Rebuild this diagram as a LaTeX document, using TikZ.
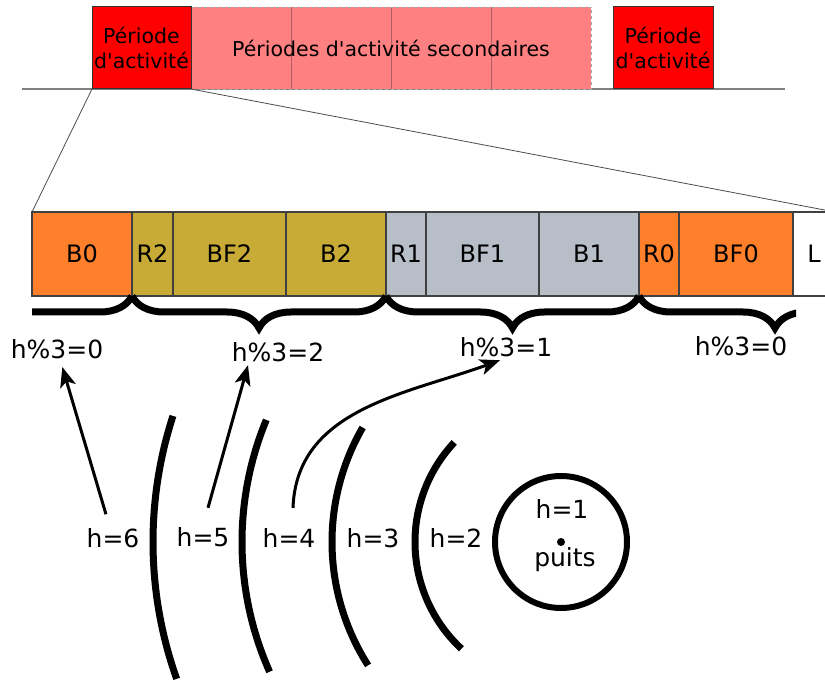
\documentclass[tikz,border=0pt]{standalone}
\usepackage{fontspec}
\setmainfont{DejaVu Sans}[Ligatures=TeXOff]
\usetikzlibrary{positioning, arrows.meta, decorations.pathreplacing}

\definecolor{actred}{HTML}{FF0000}
\definecolor{actpink}{HTML}{FF8080}
\definecolor{pinkdiv}{HTML}{B06060}
\definecolor{slot0}{HTML}{FF7F2A}
\definecolor{slot2}{HTML}{C8AB37}
\definecolor{slot1}{HTML}{B7BEC8}

\begin{document}
\begin{tikzpicture}[x=1pt,y=-1pt,
    top/.style={draw=black!80,line width=1pt,minimum width=100pt,minimum height=82pt,
      inner sep=0pt,outer sep=0pt,align=center,font=\fontsize{20.5}{25}\selectfont},
    sec/.style={fill=actpink,minimum width=100pt,minimum height=82pt,inner sep=0pt,outer sep=0pt},
    seg/.style={draw=black!75,line width=1.2pt,minimum height=84pt,inner sep=0pt,outer sep=0pt,
      font=\fontsize{24}{28}\selectfont},
    lbl/.style={font=\fontsize{25}{30}\selectfont},
    brc/.style={line width=7pt,decorate,decoration={brace,mirror,amplitude=32pt}},
    wave/.style={line width=7pt},
    arr/.style={-{Stealth[length=20pt,width=16pt,inset=5pt]},line width=3pt}]
  \clip (0,0) rectangle (825,684);
  % periods of activity
  \draw[gray,line width=2pt] (22,89) -- (785,89);
  \foreach \i in {1,...,4}
    \node[sec] (s\i) at ({141+100*\i},48) {};
  \foreach \i in {1,2,3}
    \draw[pinkdiv,line width=0.8pt] (s\i.north east) -- (s\i.south east);
  \draw[gray!70,dashed,line width=0.8pt] (s1.north west) rectangle (s4.south east);
  \node[font=\fontsize{20.5}{25}\selectfont] (stxt) at (s2.east) {Périodes d'activité secondaires};
  \node[top,fill=actred,minimum width=99pt] (pa1) at (141.5,48) {Période\\d'activité};
  \node[top,fill=actred] (pa2) at (663,48) {Période\\d'activité};

  % slots of one period
  \node[seg,fill=slot0,minimum width=100pt] (b0) at (82,254) {B0};
  \node[seg,fill=slot2,minimum width=41pt,right=0pt of b0] (r2) {R2};
  \node[seg,fill=slot2,minimum width=113pt,right=0pt of r2] (bf2) {BF2};
  \node[seg,fill=slot2,minimum width=100pt,right=0pt of bf2] (b2) {B2};
  \node[seg,fill=slot1,minimum width=40pt,right=0pt of b2] (r1) {R1};
  \node[seg,fill=slot1,minimum width=113pt,right=0pt of r1] (bf1) {BF1};
  \node[seg,fill=slot1,minimum width=100pt,right=0pt of bf1] (b1) {B1};
  \node[seg,fill=slot0,minimum width=40pt,right=0pt of b1] (r0) {R0};
  \node[seg,fill=slot0,minimum width=114pt,right=0pt of r0] (bf0) {BF0};
  \node[seg,fill=white,minimum width=42pt,right=0pt of bf0] (l) {L};
  \draw[black!70,line width=0.8pt] (pa1.south west) -- (b0.north west);
  \draw[black!70,line width=0.8pt] (pa1.south east) -- (l.north east);

  \begin{scope}
    \clip (32,0) rectangle (796,684);
    \draw[brc] (-150,296) -- (b0.south east);
    \draw[brc] (r2.south west) -- (b2.south east);
    \draw[brc] (r1.south west) -- (b1.south east);
    \draw[brc] (r0.south west) -- ++(272,0);
  \end{scope}
  \node[lbl] (m0a) at (57,349) {h\%3=0};
  \node[lbl] (m2) at (278,352) {h\%3=2};
  \node[lbl] (m1) at (506,347) {h\%3=1};
  \node[lbl] (m0b) at (741,346) {h\%3=0};

  % sink and hop rings
  \node[circle,draw,line width=6pt,minimum size=132pt] (puits) at (561,542) {};
  \fill (puits.center) circle[radius=4pt];
  \node[lbl] (h1) at (562,509) {h=1};
  \node[lbl] (pname) at (565,560) {puits};
  \foreach \r/\a/\b in {146/137/227, 229/150/212.6, 319/157.5/204, 408/162/199.6}
    \draw[wave] ([shift={(\a:\r pt)}]puits.center) arc[start angle=\a,end angle=\b,radius=\r pt];
  \node[lbl] (h2) at (456,538) {h=2};
  \node[lbl] (h3) at (373,538) {h=3};
  \node[lbl] (h4) at (289,538) {h=4};
  \node[lbl] (h5) at (203,537) {h=5};
  \node[lbl] (h6) at (113,538) {h=6};

  \draw[arr,shorten <=11pt,shorten >=5pt] (h6) -- (m0a);
  \draw[arr] ([xshift=5pt,yshift=16pt]h5.north) -- ([xshift=-30pt]m2.south);
  \draw[arr] ([xshift=4pt,yshift=17pt]h4.north) to[out=88,in=200] ([xshift=-6pt]m1.south);
\end{tikzpicture}
\end{document}
